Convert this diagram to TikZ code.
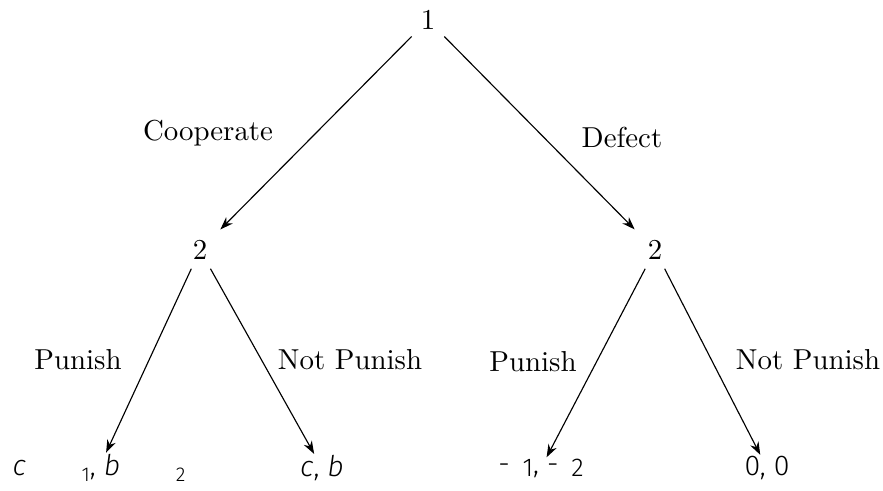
\documentclass[tikz,border=0pt]{standalone}
\usepackage{fontspec}
\newfontfamily\leaffont{Fira Sans Light}
\usetikzlibrary{arrows.meta}
\newcommand{\gapsub}[1]{\hspace{1.95em}\raisebox{-0.45ex}{\scriptsize #1}}
\begin{document}
\begin{tikzpicture}[x=0.35pt,y=-0.35pt,
  every node/.style={font=\fontsize{10.1}{12}\selectfont},
  player/.style={inner sep=3pt},
  leaf/.style={inner sep=0pt,font=\leaffont\fontsize{10}{12}\selectfont},
  edgelabel/.style={inner sep=0pt},
  move/.style={draw,line width=0.4pt,-{Stealth[length=4.5pt,width=3.2pt]},shorten >=2pt},
  leafmove/.style={move,shorten >=0.3pt}]
\useasboundingbox (0,0) rectangle (883,491);
\node[player] (n1) at (428,20) {1};
\node[player] (n2L) at (200,250) {2};
\node[player] (n2R) at (655,250) {2};
\node[leaf] (lLL) at (99,468) {\textit{c}\gapsub{1}, \textit{b}\gapsub{2}};
\node[leaf] (lLR) at (322,468) {\textit{c}, \textit{b}};
\node[leaf] (lRL) at (541,468) {-\hspace{0.45em}\raisebox{-0.2ex}{\small 1}, -\hspace{0.45em}\raisebox{-0.2ex}{\small 2}};
\node[leaf] (lRR) at (767,468) {0, 0};
\draw[move] (n1) -- (n2L);
\draw[move] (n1) -- (n2R);
\draw[leafmove] (n2L) -- (lLL);
\draw[leafmove] (n2L) -- (lLR);
\draw[leafmove] (n2R) -- (lRL);
\draw[leafmove] (n2R) -- (lRR);
\node[edgelabel] (tC) at (208,133) {Cooperate};
\node[edgelabel] (tD) at (622,137) {Defect};
\node[edgelabel] (tPL) at (78,360) {Punish};
\node[edgelabel] (tNL) at (350,360) {Not Punish};
\node[edgelabel] (tPR) at (533,362) {Punish};
\node[edgelabel] (tNR) at (808,360) {Not Punish};
\end{tikzpicture}
\end{document}
